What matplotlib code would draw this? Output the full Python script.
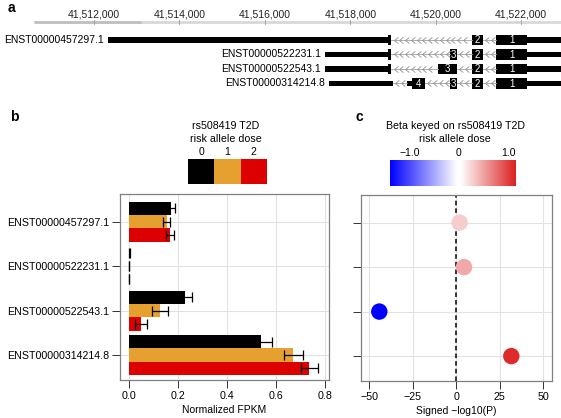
import numpy as np
import matplotlib
matplotlib.use('Agg')
import matplotlib.pyplot as plt
from matplotlib.colors import LinearSegmentedColormap, Normalize
from matplotlib.path import Path

plt.rcParams['font.family'] = ['Liberation Sans', 'DejaVu Sans']

# ---- data ----
transcripts = ['ENST00000457297.1', 'ENST00000522231.1',
               'ENST00000522543.1', 'ENST00000314214.8']

# genome track (coordinates)
genome_ticks = [41512000, 41514000, 41516000, 41518000, 41520000, 41522000]
genome_range = [41509800, 41522930]
# thin coding bars (start, end) per transcript
bars = [
    [(41512330, 41518930), (41522134, 41523500)],
    [(41517410, 41518930), (41522134, 41523500)],
    [(41517410, 41518930), (41522134, 41523500)],
    [(41517500, 41519000), (41519327, 41519450), (41522134, 41523500)],
]
# exons (start, end, number) per transcript, number '' for end marks
exons = [
    [(41518880, 41518960, ''), (41520848, 41521105, '2'), (41521409, 41522134, '1')],
    [(41518880, 41518960, ''), (41520333, 41520497, '3'), (41520848, 41521105, '2'),
     (41521409, 41522134, '1')],
    [(41518880, 41518960, ''), (41520052, 41520497, '3'), (41520848, 41521105, '2'),
     (41521409, 41522134, '1')],
    [(41519450, 41519748, '4'), (41520333, 41520497, '3'), (41520848, 41521105, '2'),
     (41521409, 41522134, '1')],
]
introns = [
    [(41518960, 41520848), (41521105, 41521409)],
    [(41518960, 41520333), (41520497, 41520848), (41521105, 41521409)],
    [(41518960, 41520052), (41520497, 41520848), (41521105, 41521409)],
    [(41519000, 41519327), (41519748, 41520333), (41520497, 41520848), (41521105, 41521409)],
]

# panel b: normalized FPKM by risk allele dose
doses = ['0', '1', '2']
fpkm_dose0 = [0.172, 0.003, 0.230, 0.540]
fpkm_dose1 = [0.155, 0.002, 0.128, 0.672]
fpkm_dose2 = [0.170, 0.002, 0.050, 0.738]
err_dose0 = [0.017, 0.001, 0.030, 0.044]
err_dose1 = [0.013, 0.001, 0.032, 0.038]
err_dose2 = [0.016, 0.001, 0.024, 0.036]
dose_colors = ['#000000', '#e6a030', '#dd0000']

# panel c: signed -log10(P), coloured by beta
signed_logp = [1.9, 4.4, -44.3, 31.6]
beta = [0.29, 0.47, -1.39, 1.1]
beta_ticks = [-1.0, 0, 1.0]
beta_labels = ['\u22121.0', '0', '1.0']

W, H = 561, 418
fig = plt.figure(figsize=(W / 100, H / 100), dpi=100)

# ---------------- panel a ----------------
axa = fig.add_axes([0, 1 - 100 / H, 1, 100 / H])
axa.set_xlim(*genome_range)
axa.set_ylim(4.14, -2.76)
axa.axis('off')

axa.plot([41510600, genome_range[1]], [-1.24, -1.24], color='#d8d8d8', lw=2, solid_capstyle='butt')
axa.plot([41510600, 41513100], [-1.24, -1.24], color='#c0c0c0', lw=2, solid_capstyle='butt')
for g in genome_ticks:
    axa.text(g, -1.75, f'{g:,}', ha='center', va='center', fontsize=7.5, color='#222222')
    axa.plot([g, g], [-1.35, -1.13], color='#999999', lw=0.6)

chevron = Path([(0.6, 1), (-0.6, 0), (0.6, -1)], [Path.MOVETO, Path.LINETO, Path.LINETO])
for i, name in enumerate(transcripts):
    for s, e in bars[i]:
        axa.fill_between([s, e], i - 0.2, i + 0.2, color='black', lw=0)
    for s, e in introns[i]:
        axa.plot([s, e], [i, i], color='#a0a0a0', lw=0.6)
        xs = np.arange(s + 100, e - 50, 135)
        axa.plot(xs, [i] * len(xs), ls='none', marker=chevron, ms=4.5,
                 mfc='none', mec='#909090', mew=0.6)
    for s, e, num in exons[i]:
        axa.fill_between([s, e], i - 0.35, i + 0.35, color='black', lw=0)
        if num:
            axa.text((s + e) / 2, i + 0.02, num, color='white', fontsize=7,
                     ha='center', va='center')
    start = min(b[0] for b in bars[i])
    axa.text(start - 90, i, name, ha='right', va='center', fontsize=7.5)

fig.text(8 / W, 1 - 1 / H, 'a', fontsize=10, fontweight='bold', va='top')
fig.text(10 / W, 1 - 110 / H, 'b', fontsize=10, fontweight='bold', va='top')
fig.text(356 / W, 1 - 110 / H, 'c', fontsize=10, fontweight='bold', va='top')

# ---------------- panel b ----------------
axb = fig.add_axes([120 / W, 38 / H, 209 / W, 186 / H])
ypos = np.arange(len(transcripts))
for k, (vals, errs) in enumerate([(fpkm_dose0, err_dose0), (fpkm_dose1, err_dose1),
                                   (fpkm_dose2, err_dose2)]):
    y = ypos + (k - 1) * 0.3
    axb.barh(y, vals, height=0.3, color=dose_colors[k], zorder=2)
    axb.errorbar(vals, y, xerr=errs, fmt='none', ecolor='black', elinewidth=0.9,
                 capsize=3.8, capthick=0.9, zorder=3)
axb.set_xlim(-0.035, 0.818)
axb.set_ylim(3.56, -0.62)
axb.set_xticks([0, 0.2, 0.4, 0.6, 0.8])
axb.set_xticklabels(['0.0', '0.2', '0.4', '0.6', '0.8'])
axb.set_yticks(ypos)
axb.set_yticklabels(transcripts)
axb.set_xlabel('Normalized FPKM', fontsize=7.5, labelpad=3)
axb.grid(color='#e2e2e2', lw=0.8)
axb.set_axisbelow(True)
axb.tick_params(labelsize=7.7, length=6, width=0.7, color='#333333', pad=2)
for sp in axb.spines.values():
    sp.set_color('#808080')
    sp.set_linewidth(0.9)

# dose legend
axl = fig.add_axes([188 / W, (H - 184) / H, 79 / W, 25 / H])
for k, c in enumerate(dose_colors):
    axl.bar(k, 1, width=1, color=c)
axl.set_xlim(-0.5, 2.5)
axl.set_ylim(0, 1)
axl.set_xticks(range(len(doses)))
axl.set_xticklabels(doses)
axl.xaxis.tick_top()
axl.tick_params(length=0, labelsize=7.5, pad=1.5)
axl.set_yticks([])
for sp in axl.spines.values():
    sp.set_visible(False)
fig.text(226 / W, 1 - 126 / H, 'rs508419 T2D', ha='center', va='center', fontsize=7.7)
fig.text(226 / W, 1 - 139 / H, 'risk allele dose', ha='center', va='center', fontsize=7.7)

# ---------------- panel c ----------------
vmin, vmax = -1.39, 1.15
z = -vmin / (vmax - vmin)
cmap = LinearSegmentedColormap.from_list(
    'bwr_beta', [(0, '#0000ff'), (z - 0.015, '#ffffff'), (z + 0.015, '#ffffff'), (1, '#dc2020')])
norm = Normalize(vmin, vmax)

axc = fig.add_axes([360.7 / W, 37 / H, 191.3 / W, 186 / H])
axc.axvline(0, color='black', ls=(0, (3, 2)), lw=1.1, zorder=2)
axc.scatter(signed_logp, ypos, c=beta, cmap=cmap, norm=norm, s=140, zorder=3, lw=0)
axc.set_xlim(-55, 55)
axc.set_ylim(3.56, -0.62)
axc.set_xticks([-50, -25, 0, 25, 50])
axc.set_yticks(ypos)
axc.set_yticklabels([])
axc.set_xlabel('Signed \u2212log10(P)', fontsize=7.5, labelpad=3)
axc.grid(color='#e2e2e2', lw=0.8)
axc.set_axisbelow(True)
axc.tick_params(labelsize=7.7, length=6, width=0.7, color='#333333', pad=2)
for sp in axc.spines.values():
    sp.set_color('#808080')
    sp.set_linewidth(0.9)

# beta colour bar
axcb = fig.add_axes([390 / W, (H - 186) / H, 125.7 / W, 26 / H])
grad = np.linspace(vmin, vmax, 256).reshape(1, -1)
axcb.imshow(grad, aspect='auto', cmap=cmap, norm=norm, extent=[vmin, vmax, 0, 1])
axcb.set_xlim(vmin, vmax)
axcb.set_xticks(beta_ticks)
axcb.set_xticklabels(beta_labels)
axcb.xaxis.tick_top()
axcb.tick_params(length=0, labelsize=7.5, pad=1.5)
axcb.set_yticks([])
for sp in axcb.spines.values():
    sp.set_visible(False)
fig.text(455 / W, 1 - 126 / H, 'Beta keyed on rs508419 T2D', ha='center', va='center', fontsize=7.7)
fig.text(455 / W, 1 - 139 / H, 'risk allele dose', ha='center', va='center', fontsize=7.7)

fig.savefig('out.png', dpi=100)
